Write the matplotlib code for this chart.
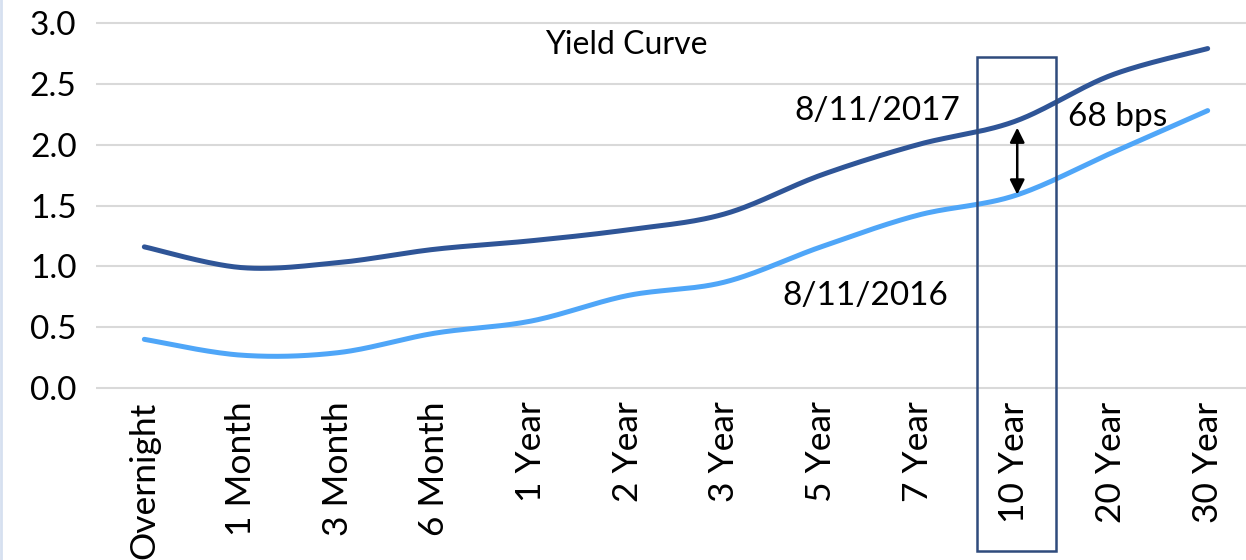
import numpy as np
import matplotlib
matplotlib.use("Agg")
import matplotlib.pyplot as plt
from matplotlib.patches import Rectangle
from matplotlib.lines import Line2D

categories = ["Overnight", "1 Month", "3 Month", "6 Month", "1 Year", "2 Year",
              "3 Year", "5 Year", "7 Year", "10 Year", "20 Year", "30 Year"]
y2017 = [1.16, 0.99, 1.03, 1.14, 1.21, 1.30, 1.43, 1.75, 2.00, 2.19, 2.57, 2.79]
y2016 = [0.40, 0.27, 0.29, 0.45, 0.55, 0.76, 0.87, 1.16, 1.42, 1.58, 1.93, 2.28]
yticks = [0.0, 0.5, 1.0, 1.5, 2.0, 2.5, 3.0]

plt.rcParams['font.family'] = ['Lato', 'DejaVu Sans']


def smooth(xs, ys, n=30):
    xs = np.asarray(xs, float)
    ys = np.asarray(ys, float)
    P = np.column_stack([xs, ys])
    P = np.vstack([P[0], P, P[-1]])
    out = []
    t = np.linspace(0, 1, n)[:, None]
    for i in range(1, len(P) - 2):
        p0, p1, p2, p3 = P[i - 1], P[i], P[i + 1], P[i + 2]
        c1 = p1 + (p2 - p0) / 6.0
        c2 = p2 - (p3 - p1) / 6.0
        seg = ((1 - t) ** 3) * p1 + 3 * ((1 - t) ** 2) * t * c1 + 3 * (1 - t) * t ** 2 * c2 + t ** 3 * p2
        out.append(seg if i == 1 else seg[1:])
    a = np.vstack(out)
    return a[:, 0], a[:, 1]


fig = plt.figure(figsize=(12.46, 5.6), dpi=100)
ax = fig.add_axes([96 / 1246, 1 - 391.65 / 560, (1256 - 96) / 1246, (391.65 - 19.35) / 560])

x = np.arange(len(categories))
dark = "#2F5597"
light = "#4FA6F8"
sx, sy = smooth(x, y2017)
ax.plot(sx, sy, color=dark, lw=3.6, solid_capstyle='round', zorder=3)
sx, sy = smooth(x, y2016)
ax.plot(sx, sy, color=light, lw=3.6, solid_capstyle='round', zorder=3)

ax.set_xlim(-0.5, len(categories) - 0.5)
ax.set_ylim(-0.03, 3.03)
ax.set_yticks(yticks)
ax.set_yticklabels([f"{v:.1f}" for v in yticks], fontsize=24)
ax.set_xticks(x)
ax.set_xticklabels(categories, rotation=90, fontsize=25.5, va='top')
ax.tick_params(length=0, pad=7)
ax.tick_params(axis='y', pad=14)
for s in ax.spines.values():
    s.set_visible(False)
ax.grid(axis='y', color='#D9D9D9', lw=1.5)
ax.set_axisbelow(True)

ax.text(4.99, 2.82, "Yield Curve", fontsize=23, ha='center', va='center')
ax.text(7.58, 2.28, "8/11/2017", fontsize=24, ha='center', va='center')
ax.text(7.46, 0.76, "8/11/2016", fontsize=24, ha='center', va='center')
ax.text(10.07, 2.23, "68 bps", fontsize=24, ha='center', va='center')

ax.add_patch(Rectangle((8.61, -1.34), 0.82, 2.72 + 1.34, fill=False,
                       edgecolor='#2F4B7C', lw=1.8, clip_on=False, zorder=4))
ax.annotate("", xy=(9.03, 1.59), xytext=(9.03, 2.14),
            arrowprops=dict(arrowstyle='<|-|>', color='black', lw=1.8,
                            mutation_scale=22, shrinkA=0, shrinkB=0), zorder=5)

fig.add_artist(Line2D([0.001, 0.001], [0, 1], transform=fig.transFigure,
                      color='#D6E0F0', lw=2))

fig.savefig("out.png", dpi=100)
